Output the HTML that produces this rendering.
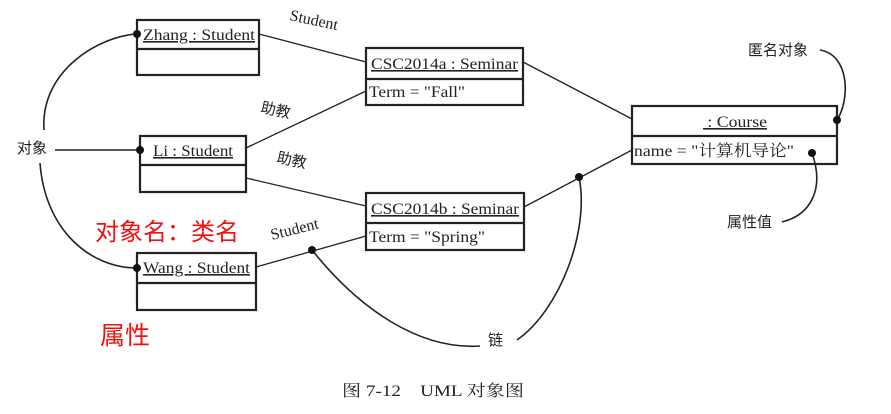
<!DOCTYPE html>
<html><head><meta charset="utf-8"><style>
html,body{margin:0;padding:0;background:#fff;}
svg{display:block;}
text{font-family:"Liberation Serif","Noto Serif CJK SC",serif;fill:#222;}
.cn{font-family:"Liberation Sans","Noto Sans CJK SC",sans-serif;}
</style></head><body>
<svg width="891" height="414" viewBox="0 0 891 414" xmlns="http://www.w3.org/2000/svg">
<g fill="none" stroke="#222" stroke-width="2.2">
<rect x="137" y="20" width="122" height="55"/><line x1="137" y1="49" x2="259" y2="49"/>
<rect x="140" y="136" width="106" height="56"/><line x1="140" y1="165" x2="246" y2="165"/>
<rect x="137" y="253" width="119" height="57"/><line x1="137" y1="283" x2="256" y2="283"/>
<rect x="366" y="48" width="157" height="57"/><line x1="366" y1="79" x2="523" y2="79"/>
<rect x="366" y="193" width="158" height="57"/><line x1="366" y1="223" x2="524" y2="223"/>
<rect x="632" y="106" width="205" height="58"/><line x1="632" y1="136" x2="837" y2="136"/>
</g>
<g fill="none" stroke="#222" stroke-width="1.3">
<line x1="259" y1="34" x2="366" y2="62"/>
<line x1="246" y1="148" x2="366" y2="91"/>
<line x1="246" y1="178" x2="366" y2="206"/>
<line x1="256" y1="267" x2="366" y2="236"/>
<line x1="523" y1="62" x2="632" y2="119"/>
<line x1="524" y1="207" x2="632" y2="150"/>
</g>
<g fill="none" stroke="#222" stroke-width="1.6">
<line x1="55" y1="150" x2="140" y2="150"/>
<path d="M44 130 C40 70 100 36 137 34"/>
<path d="M40 163 C45 230 90 268 137 268"/>
<path d="M312 250 C360 310 420 350 480 346"/>
<path d="M517 340 C560 310 590 230 579 177"/>
<path d="M820 50 C850 55 850 100 837 120"/>
<path d="M782 222 C810 215 825 190 812 153"/>
</g>
<g fill="#111">
<circle cx="137" cy="34" r="4"/><circle cx="140" cy="150" r="4"/><circle cx="137" cy="268" r="4"/>
<circle cx="312" cy="250" r="4"/><circle cx="579" cy="177" r="4"/>
<circle cx="837" cy="120" r="4"/><circle cx="812" cy="153" r="4"/>
</g>
<g font-size="16">
<text x="143" y="40" textLength="112" lengthAdjust="spacingAndGlyphs" text-decoration="underline">Zhang : Student</text>
<text x="153" y="156" textLength="80" lengthAdjust="spacingAndGlyphs" text-decoration="underline">Li : Student</text>
<text x="143" y="273" textLength="107" lengthAdjust="spacingAndGlyphs" text-decoration="underline">Wang : Student</text>
<text x="371" y="69" textLength="147" lengthAdjust="spacingAndGlyphs" text-decoration="underline">CSC2014a : Seminar</text>
<text x="369" y="97" textLength="96" lengthAdjust="spacingAndGlyphs">Term = "Fall"</text>
<text x="371" y="214" textLength="148" lengthAdjust="spacingAndGlyphs" text-decoration="underline">CSC2014b : Seminar</text>
<text x="369" y="242" textLength="116" lengthAdjust="spacingAndGlyphs">Term = "Spring"</text>
<text x="703" y="127" textLength="64" lengthAdjust="spacingAndGlyphs" text-decoration="underline">&#160;: Course</text>
<text x="634" y="156" textLength="160" lengthAdjust="spacingAndGlyphs">name = "计算机导论"</text>
<text x="289" y="20" transform="rotate(12 289 20)">Student</text>
<text x="272" y="240" transform="rotate(-14 272 240)">Student</text>
</g>
<g font-size="15">
<text class="cn" x="260" y="112" transform="rotate(12 260 112)">助教</text>
<text class="cn" x="276" y="162" transform="rotate(12 276 162)">助教</text>
<text class="cn" x="17" y="153">对象</text>
<text class="cn" x="488" y="345">链</text>
<text class="cn" x="748" y="55">匿名对象</text>
<text class="cn" x="727" y="227">属性值</text>
<text x="342" y="396" font-size="16" textLength="182" lengthAdjust="spacingAndGlyphs">图 7-12　UML 对象图</text>
</g>
<text class="cn" x="95" y="240" font-size="24" style="fill:#f01010">对象名：类名</text>
<text class="cn" x="100" y="344" font-size="25" style="fill:#f01010">属性</text>
</svg>
</body></html>
